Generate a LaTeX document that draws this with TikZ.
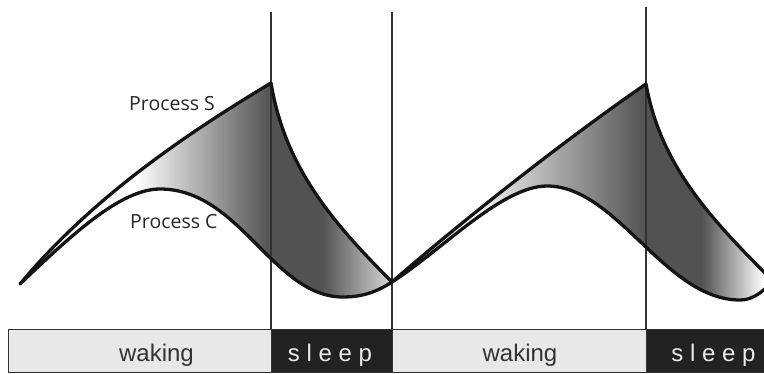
\documentclass[tikz,border=0pt]{standalone}
\usepackage{fontspec}
\setmainfont{Liberation Sans}
\newfontfamily\procfont{Open Sans}
\definecolor{darkfill}{RGB}{82,82,82}
\definecolor{wakegray}{RGB}{232,232,232}
\definecolor{sleepdark}{RGB}{34,34,34}
\definecolor{curvecol}{RGB}{20,20,20}
\definecolor{vlinecol}{RGB}{50,50,50}
\begin{document}
\begin{tikzpicture}[x=1pt,y=-1pt,
  curve/.style={draw=curvecol,line width=3.3pt,line join=round,line cap=round},
  vline/.style={draw=vlinecol,line width=1.4pt},
  wakebox/.style={draw=vlinecol,line width=1pt,fill=wakegray,inner sep=0pt},
  sleepbox/.style={draw=vlinecol,line width=1pt,fill=sleepdark,inner sep=0pt},
  waketext/.style={font=\fontsize{24}{24}\selectfont,text=black!80,anchor=base,inner sep=0pt},
  sleeptext/.style={font=\fontsize{24}{24}\selectfont,text=white!92!black,anchor=base,inner sep=0pt},
  proclabel/.style={font=\procfont\fontsize{19.5}{19.5}\selectfont,text=black!85,anchor=base west,inner sep=0pt}]
\useasboundingbox (0,0) rectangle (764,373);

% ---- curve pieces (Bezier)
\def\SwakeA{(20,284) .. controls (90,200) and (181,137) .. (271,83)}
\def\SsleepA{(271,83) .. controls (285,167) and (332,222) .. (392,282)}
\def\CrevA{(392,282) .. controls (377,291.6) and (363,297) .. (343,297) .. controls (273,297) and (240,189) .. (160,189) .. controls (120,189) and (70,236.5) .. (20,284)}
\def\SwakeB{(392,282) .. controls (462,221) and (566,139) .. (646,84)}
\def\SsleepB{(646,84) .. controls (660,162) and (706,214) .. (766,274)}
\def\CrevB{(766,288) .. controls (760,293) and (752,300) .. (740,300) .. controls (665,300) and (617,186) .. (547,186) .. controls (502,186) and (442,250) .. (392,282)}

% ---- cycle 1 fill
\begin{scope}
  \clip (20,284) .. controls (90,200) and (181,137) .. (271,83)
        .. controls (285,167) and (332,222) .. (392,282)
        .. controls (377,291.6) and (363,297) .. (343,297)
        .. controls (273,297) and (240,189) .. (160,189)
        .. controls (120,189) and (70,236.5) .. (20,284) -- cycle;
  \fill[white] (0,0) rectangle (400,330);
  \shade[left color=white,right color=darkfill] (135,0) rectangle (271,330);
  \fill[darkfill] (271,0) rectangle (322,330);
  \shade[left color=darkfill,right color=white!85!black] (322,0) rectangle (392,330);
\end{scope}
% ---- cycle 2 fill
\begin{scope}
  \clip (392,282) .. controls (462,221) and (566,139) .. (646,84)
        .. controls (660,162) and (706,214) .. (766,274)
        -- (766,288) .. controls (760,293) and (752,300) .. (740,300)
        .. controls (665,300) and (617,186) .. (547,186)
        .. controls (502,186) and (442,250) .. (392,282) -- cycle;
  \fill[white] (390,0) rectangle (770,330);
  \shade[left color=white,right color=darkfill] (465,0) rectangle (646,330);
  \fill[darkfill] (646,0) rectangle (702,330);
  \shade[left color=darkfill,right color=white] (702,0) rectangle (764,330);
\end{scope}

% ---- vertical lines
\coordinate (t1) at (271,12);
\coordinate (t2) at (392,12);
\coordinate (t3) at (646,7);
\coordinate (b1) at (271,329);
\coordinate (b2) at (392,329);
\coordinate (b3) at (646,329);
\draw[vline] (t1) -- (b1);
\draw[vline] (t2) -- (b2);
\draw[vline] (t3) -- (b3);

% ---- curves
\draw[curve] \SwakeA;
\draw[curve] \SsleepA;
\draw[curve] \CrevA;
\draw[curve] \SwakeB;
\draw[curve] \SsleepB;
\draw[curve] \CrevB;

% ---- labels
\node[proclabel] (ps) at (129,110) {Process S};
\node[proclabel] (pc) at (130,228) {Process C};

% ---- bar
\node[wakebox,minimum width=263pt,minimum height=43pt,anchor=north west] (w1) at (8,329) {};
\node[sleepbox,minimum width=121pt,minimum height=43pt,anchor=north west] (s1) at (271,329) {};
\node[wakebox,minimum width=254pt,minimum height=43pt,anchor=north west] (w2) at (392,329) {};
\node[sleepbox,minimum width=124pt,minimum height=43pt,anchor=north west] (s2) at (646,329) {};
\node[waketext] (w1t) at (156.5,361) {waking};
\node[sleeptext] (s1t) at (330,361) {s l e e p};
\node[waketext] (w2t) at (520,361) {waking};
\node[sleeptext] (s2t) at (713.5,361) {s l e e p};
\end{tikzpicture}
\end{document}
